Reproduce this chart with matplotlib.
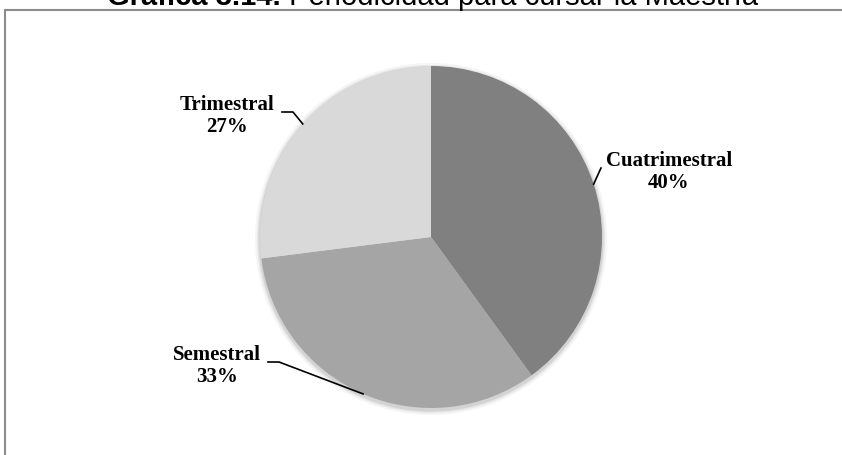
import numpy as np
import matplotlib.pyplot as plt
from matplotlib.patches import Rectangle, Circle

# datos
categorias = ['Cuatrimestral', 'Semestral', 'Trimestral']
porcentajes = [40, 33, 27]
colores = ['#808080', '#a5a5a5', '#d9d9d9']
titulo_num = 'Gráfica 3.14.'
titulo_txt = ' Periodicidad para cursar la Maestría'

W, H = 842, 455
fig = plt.figure(figsize=(W / 100, H / 100), dpi=100)
ax = fig.add_axes([0, 0, 1, 1])

# marco del gráfico
fig.patches.append(Rectangle((5 / W, -0.1), 1.2, 0.1 + (H - 9.5) / H,
                             transform=fig.transFigure, fill=False,
                             edgecolor='#8c8c8c', linewidth=1.5))

centro = (431, H - 237)
radio = 171

# sombra suave
for k, a in [(5, 0.04), (3, 0.06), (1.5, 0.08)]:
    ax.add_patch(Circle((centro[0], centro[1] - 2), radio + k,
                        color='#000000', alpha=a, lw=0))

wedges, _ = ax.pie(porcentajes, colors=colores, startangle=90,
                   counterclock=False, center=centro, radius=radio,
                   wedgeprops=dict(linewidth=0), frame=True)
ax.set_xlim(0, W)
ax.set_ylim(0, H)
ax.set_aspect('equal')
ax.axis('off')

# posiciones de las etiquetas (pixeles desde arriba) y codo de la línea
pos_texto = {'Cuatrimestral': (669, 172), 'Semestral': (217, 366),
             'Trimestral': (227, 116)}
codo = {'Cuatrimestral': [(601, 168)], 'Semestral': [(268, 362), (279, 362)],
        'Trimestral': [(282, 112), (293, 112)]}

fuente = dict(family=['Liberation Serif', 'DejaVu Serif'], weight='bold',
              size=15)
for w, cat, p in zip(wedges, categorias, porcentajes):
    ang = np.deg2rad((w.theta1 + w.theta2) / 2)
    borde = (centro[0] + radio * np.cos(ang), centro[1] + radio * np.sin(ang))
    tx, ty = pos_texto[cat]
    ax.text(tx, H - ty, f'{cat}\n{p}%', ha='center', va='center',
            linespacing=1.2, **fuente)
    pts = [(x, H - y) for x, y in codo[cat]] + [borde]
    xs, ys = zip(*pts)
    ax.plot(xs, ys, color='black', lw=1.2)

# título (parcialmente recortado arriba)
fig.canvas.draw()
r = fig.canvas.get_renderer()
t1 = fig.text(0, 1 - 5 / H, titulo_num, family=['Liberation Sans'],
              weight='bold', size=21, va='baseline')
t2 = fig.text(0, 1 - 5 / H, titulo_txt, family=['Liberation Sans'],
              size=21, va='baseline')
w1 = t1.get_window_extent(r).width
w2 = t2.get_window_extent(r).width
x0 = 432.5 - (w1 + w2) / 2
t1.set_x(x0 / W)
t2.set_x((x0 + w1) / W)

fig.savefig('out.png', dpi=100)
